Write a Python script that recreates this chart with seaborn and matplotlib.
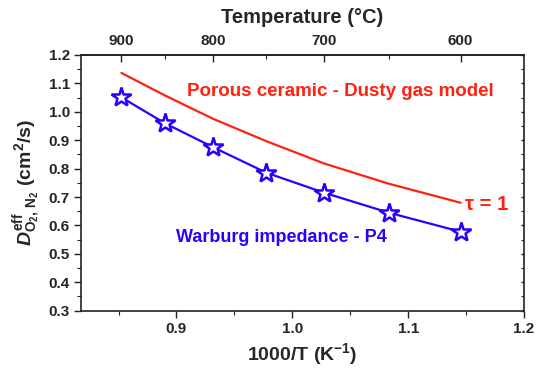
import numpy as np
import pandas as pd
import matplotlib
matplotlib.use("Agg")
import matplotlib.pyplot as plt
from matplotlib.ticker import MultipleLocator, FixedLocator, FormatStrFormatter
import seaborn as sns

# Measured points (Warburg impedance, sample P4) and dusty-gas model (tau = 1)
temperature_c = [900, 850, 800, 750, 700, 650, 600]
d_warburg = [1.051, 0.959, 0.875, 0.786, 0.715, 0.645, 0.578]
d_dusty_gas = [1.137, 1.057, 0.975, 0.897, 0.818, 0.747, 0.680]

top_major = [900, 800, 700, 600]
top_minor = [850, 750, 650]

BLUE = "#2b00ff"
RED = "#ff2210"

inv_t = [1000.0 / (t + 273.15) for t in temperature_c]
df = pd.DataFrame({"inv_t": inv_t, "warburg": d_warburg, "dusty": d_dusty_gas})

sns.set_theme(style="ticks")
plt.rcParams["font.family"] = ["Liberation Sans", "DejaVu Sans"]
plt.rcParams["font.weight"] = "bold"
plt.rcParams["mathtext.fontset"] = "custom"
plt.rcParams["mathtext.rm"] = "Liberation Sans:bold"
plt.rcParams["mathtext.it"] = "Liberation Sans:italic:bold"
plt.rcParams["mathtext.bf"] = "Liberation Sans:bold"

fig = plt.figure(figsize=(5.38, 3.76), dpi=100)
ax = fig.add_axes([81 / 538, 1 - 310.7 / 376, (524 - 81) / 538, (310.7 - 55) / 376])

sns.lineplot(data=df, x="inv_t", y="dusty", ax=ax, color=RED, linewidth=1.6,
             sort=False)
sns.lineplot(data=df, x="inv_t", y="warburg", ax=ax, color=BLUE, linewidth=1.6,
             marker="*", markersize=15, markerfacecolor="white",
             markeredgecolor=BLUE, markeredgewidth=1.8, sort=False)

ax.set_xlim(1000.0 / (950 + 273.15), 1.2)
ax.set_ylim(0.3, 1.2)
ax.xaxis.set_major_locator(FixedLocator([0.9, 1.0, 1.1, 1.2]))
ax.xaxis.set_minor_locator(FixedLocator([0.85, 0.95, 1.05, 1.15]))
ax.yaxis.set_major_locator(MultipleLocator(0.1))
ax.yaxis.set_minor_locator(MultipleLocator(0.05))
ax.xaxis.set_major_formatter(FormatStrFormatter("%.1f"))
ax.yaxis.set_major_formatter(FormatStrFormatter("%.1f"))

for s in ax.spines.values():
    s.set_linewidth(1.2)
    s.set_color("#222222")

ax.tick_params(axis="both", which="major", direction="out", length=5, width=1.0,
               labelsize=11, color="#222222", pad=3)
ax.tick_params(axis="both", which="minor", direction="out", length=3, width=0.8,
               color="#222222")
ax.tick_params(axis="y", which="both", right=True)
# right-side ticks drawn short and inward
for tl in ax.yaxis.get_ticklines(minor=False)[1::2] + ax.yaxis.get_ticklines(minor=True)[1::2]:
    tl.set_marker(matplotlib.lines.TICKLEFT)
    tl.set_markersize(2)
    tl.set_color("#999999")

for lab in ax.get_xticklabels() + ax.get_yticklabels():
    lab.set_fontweight("bold")

ax.set_xlabel(r"1000/T (K$^{-1}$)", fontsize=14, fontweight="bold", labelpad=4)
ax.set_ylabel(r"$D^{\rm eff}_{\rm O_2,\,N_2}$ (cm$^2$/s)", fontsize=14,
              fontweight="bold", labelpad=4)

# Temperature scale on top
top = ax.secondary_xaxis("top", functions=(lambda x: 1000.0 / np.asarray(x) - 273.15,
                                           lambda t: 1000.0 / (np.asarray(t) + 273.15)))
top.xaxis.set_major_locator(FixedLocator(top_major))
top.xaxis.set_minor_locator(FixedLocator(top_minor))
top.tick_params(which="major", direction="in", length=5, width=1.0, labelsize=11,
                color="#222222", pad=5)
top.tick_params(which="minor", direction="in", length=3, width=0.8, color="#222222")
for lab in top.get_xticklabels():
    lab.set_fontweight("bold")
top.set_xlabel("Temperature (°C)", fontsize=14.5, fontweight="bold", labelpad=8)
top.spines["top"].set_linewidth(1.2)


def px(x, y):
    return fig.transFigure.inverted().transform((x, 376 - y))


fig.text(*px(340, 91), "Porous ceramic - Dusty gas model", color=RED, fontsize=13.5,
         fontweight="bold", ha="center", va="center")
fig.text(*px(281, 237), "Warburg impedance - P4", color=BLUE, fontsize=13,
         fontweight="bold", ha="center", va="center")
fig.text(*px(487, 204), "τ = 1", color=RED, fontsize=14.5,
         fontweight="bold", ha="center", va="center")

fig.savefig("out.png", dpi=100)
